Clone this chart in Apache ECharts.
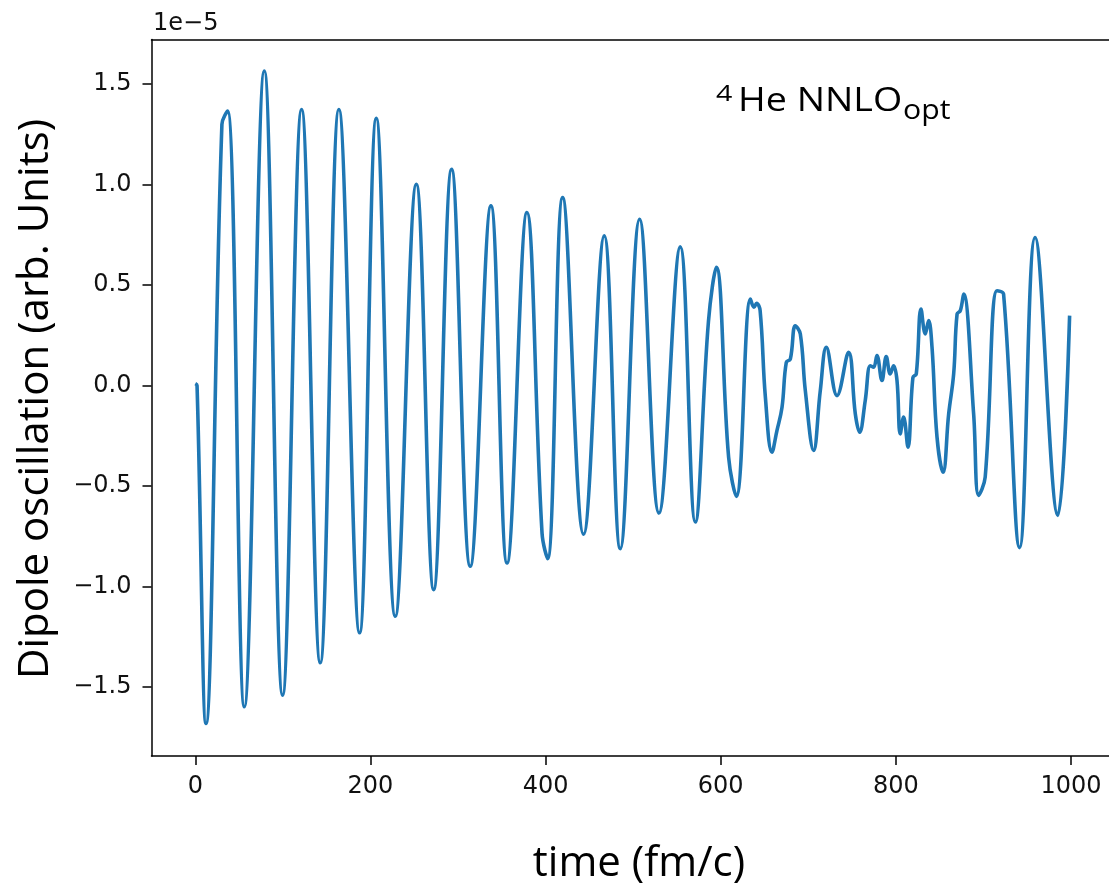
<!DOCTYPE html>
<html>
<head>
<meta charset="utf-8">
<script src="https://cdn.jsdelivr.net/npm/echarts@6/dist/echarts.min.js"></script>
<style>
html,body{margin:0;padding:0;background:#fff;}
#chart{width:1109px;height:885px;}
</style>
</head>
<body>
<div id="chart"></div>
<script>
// time in fm/c
var timeValues = [0, 2, 12.2, 30.4, 36.9, 56, 78.8, 99.7, 121.4, 142.7, 164, 187.6, 206.7, 228.4, 252.4, 272.2, 292.7, 314, 337.6, 356, 378.7, 396, 402.3, 419.5, 443.4, 467, 485.3, 507.4, 529.5, 553.8, 571, 586, 595, 609, 617.8, 634, 638, 641, 645, 651, 658.5, 664.2, 670, 674.9, 679.5, 685.2, 690.9, 696.6, 706.1, 713.7, 720.6, 732.8, 746, 753.7, 758.6, 765, 770.8, 774.6, 778.4, 784.1, 789, 793.6, 797.4, 801.3, 805, 808.8, 813.8, 819.5, 823.3, 828.7, 833.6, 837.4, 841.3, 847, 853.9, 860.3, 866, 869.9, 873.6, 877.4, 888.8, 894.5, 902, 915.5, 923, 941.3, 959, 985, 998.4];
// dipole oscillation, in units of 1e-5
var dipoleValues = [0.01, 0.0, -1.681, 1.30, 1.366, -1.598, 1.565, -1.54, 1.374, -1.379, 1.374, -1.23, 1.33, -1.148, 1.002, -1.015, 1.076, -0.899, 0.894, -0.883, 0.861, -0.737, -0.861, 0.935, -0.74, 0.745, -0.811, 0.828, -0.634, 0.69, -0.679, 0.32, 0.588, -0.356, -0.551, 0.43, 0.39, 0.41, 0.373, -0.058, -0.331, -0.224, -0.108, 0.116, 0.132, 0.298, 0.257, -0.025, -0.323, -0.025, 0.19, -0.05, 0.166, -0.141, -0.232, -0.075, 0.099, 0.091, 0.149, 0.025, 0.144, 0.058, 0.099, 0.025, -0.24, -0.157, -0.306, 0.041, 0.058, 0.381, 0.257, 0.323, 0.19, -0.257, -0.431, -0.141, 0.058, 0.356, 0.373, 0.455, -0.141, -0.546, -0.455, 0.472, 0.455, -0.806, 0.737, -0.646, 0.348];
var xTicks = [0, 200, 400, 600, 800, 1000];
var yTicks = [-1.5, -1.0, -0.5, 0.0, 0.5, 1.0, 1.5];
var xTitle = 'time (fm/c)';
var yTitle = 'Dipole oscillation (arb. Units)';
var scaleText = '1e\u22125';

var chart = echarts.init(document.getElementById('chart'), null, {renderer: 'canvas'});
var pts = timeValues.map(function (t, i) { return [t, dipoleValues[i]]; });

var tickFont = {fontFamily: 'DejaVu Sans', fontSize: 24, color: '#111'};
var spine = {show: true, onZero: false, lineStyle: {color: '#000', width: 1.5}};
chart.setOption({
  animation: false,
  backgroundColor: '#fff',
  grid: {left: 151.5, top: 39.5, width: 963.3, height: 716.5, show: false, containLabel: false, outerBoundsMode: 'none'},
  xAxis: [{
    type: 'value', min: -50, max: 1050, position: 'bottom',
    axisLine: spine,
    axisTick: {show: true, length: 9, inside: false, customValues: xTicks, lineStyle: {color: '#000', width: 1.5}},
    axisLabel: Object.assign({customValues: xTicks, margin: 19, formatter: function (v) { return String(v); }}, tickFont),
    splitLine: {show: false}
  }, {
    type: 'value', min: -50, max: 1050, position: 'top',
    axisLine: spine, axisTick: {show: false}, axisLabel: {show: false}, splitLine: {show: false}
  }],
  yAxis: {
    type: 'value', min: -1.843, max: 1.722,
    axisLine: spine,
    axisTick: {show: true, length: 9, inside: false, customValues: yTicks, lineStyle: {color: '#000', width: 1.5}},
    axisLabel: Object.assign({customValues: yTicks, margin: 20, formatter: function (v) { return v.toFixed(1).replace('-', '\u2212'); }}, tickFont),
    splitLine: {show: false}
  },
  series: [{
    type: 'line', data: pts, showSymbol: false, smooth: 0.4, xAxisIndex: 0,
    lineStyle: {color: '#1f77b4', width: 3.6}, clip: true
  }],
  graphic: [
    {type: 'text', left: 153, top: 12, style: {text: scaleText, fontFamily: 'DejaVu Sans', fontSize: 24, fill: '#111'}},
    {type: 'text', x: 639, y: 864, style: {text: xTitle, fontFamily: 'Open Sans', fontSize: 42, fill: '#000', align: 'center', verticalAlign: 'middle'}},
    {type: 'text', x: 36, y: 399, rotation: Math.PI / 2, style: {text: yTitle, fontFamily: 'Open Sans', fontSize: 42, fill: '#000', align: 'center', verticalAlign: 'middle'}},
    {type: 'text', x: 716, y: 94.5, scaleX: 1.3, style: {text: '4', fontFamily: 'Open Sans', fontSize: 22, fill: '#000', align: 'left', verticalAlign: 'middle'}},
    {type: 'text', x: 738, y: 102, scaleX: 1.14, style: {text: 'He NNLO', fontFamily: 'Open Sans', fontSize: 33, fill: '#000', align: 'left', verticalAlign: 'middle'}},
    {type: 'text', x: 903, y: 111, scaleX: 1.08, style: {text: 'opt', fontFamily: 'Open Sans', fontSize: 28, fill: '#000', align: 'left', verticalAlign: 'middle'}}
  ]
});
</script>
</body>
</html>
